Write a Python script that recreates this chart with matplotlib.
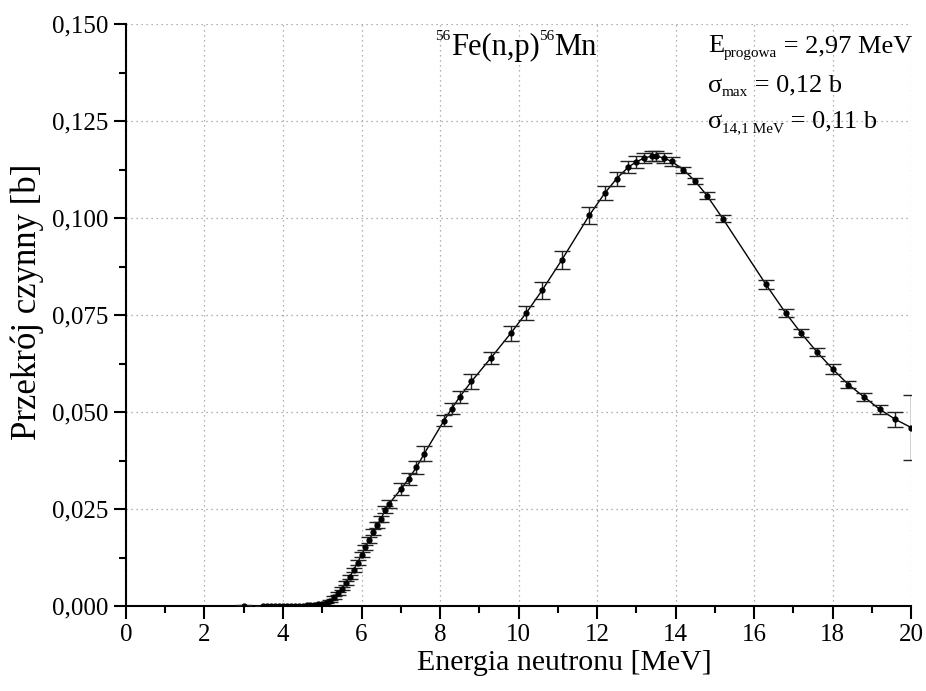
import numpy as np
import matplotlib.pyplot as plt
from matplotlib.ticker import MultipleLocator, FuncFormatter

plt.rcParams['font.family'] = ['Liberation Serif', 'DejaVu Serif']

# energia [MeV], przekroj czynny [b], niepewnosc [b]
energy = [3.0, 3.5, 3.6, 3.7, 3.8, 3.9, 4.0, 4.1, 4.2, 4.3, 4.4, 4.5, 4.6, 4.7,
          4.8, 4.9, 5.0, 5.1, 5.2, 5.3, 5.4, 5.5, 5.6, 5.7, 5.8, 5.9, 6.0, 6.1,
          6.2, 6.3, 6.4, 6.5, 6.6, 6.7, 7.0, 7.2, 7.4, 7.6, 8.1, 8.3, 8.5, 8.8,
          9.3, 9.8, 10.2, 10.6, 11.1, 11.8, 12.2, 12.5, 12.8, 13.0, 13.2, 13.4,
          13.5, 13.7, 13.9, 14.2, 14.5, 14.8, 15.2, 16.3, 16.8, 17.2, 17.6, 18.0,
          18.4, 18.8, 19.2, 19.6, 20.0]
sigma = [0.0, 0.0, 0.0, 0.0, 0.0, 0.0, 0.0, 0.0, 0.00002, 0.00004, 0.00006,
         0.0001, 0.00015, 0.0002, 0.0003, 0.0004, 0.0006, 0.0009, 0.0013,
         0.0022, 0.0033, 0.0044, 0.0059, 0.0075, 0.0093, 0.0112, 0.0132, 0.0151,
         0.0170, 0.0191, 0.0209, 0.0225, 0.0248, 0.0263, 0.0301, 0.0328, 0.0358,
         0.0393, 0.0478, 0.0509, 0.0539, 0.0579, 0.0640, 0.0703, 0.0756, 0.0814,
         0.0892, 0.1007, 0.1065, 0.1102, 0.1132, 0.1145, 0.1155, 0.1160, 0.1160,
         0.1155, 0.1146, 0.1125, 0.1095, 0.1058, 0.0999, 0.0829, 0.0756, 0.0703,
         0.0655, 0.0611, 0.0571, 0.0539, 0.0507, 0.0481, 0.0460]
err = [0.0002, 0.0001, 0.0001, 0.0001, 0.0001, 0.0001, 0.0001, 0.0001, 0.0001,
       0.0001, 0.0001, 0.0001, 0.0001, 0.0001, 0.0001, 0.0002, 0.0002, 0.0002,
       0.0003, 0.0003, 0.0004, 0.0004, 0.0005, 0.0005, 0.0006, 0.0006, 0.0006,
       0.0007, 0.0007, 0.0007, 0.0008, 0.0008, 0.0009, 0.0010, 0.0015, 0.0015,
       0.0017, 0.0020, 0.0015, 0.0015, 0.0015, 0.0020, 0.0015, 0.0020, 0.0018,
       0.0022, 0.0022, 0.0022, 0.0018, 0.0018, 0.0016, 0.0015, 0.0012, 0.0012,
       0.0012, 0.0012, 0.0012, 0.0008, 0.0008, 0.0009, 0.0008, 0.0012, 0.0010,
       0.0010, 0.0010, 0.0012, 0.0010, 0.0010, 0.0012, 0.0019, 0.0084]


def chain(ax, x, y, size, parts):
    """Tekst z indeksami: parts = [(tekst, rozmiar, przesuniecie_pionowe_pt)]"""
    anchor = ax.text(x, y, 'E', transform=ax.transAxes, fontsize=size,
                     ha='left', va='baseline', alpha=0)
    prev = None
    for txt, fs, dy in parts:
        xref = anchor if prev is None else prev
        xfrac = 0 if prev is None else 1
        prev = ax.annotate(txt, xy=(xfrac, 0), xycoords=(xref, anchor),
                           xytext=(0, dy), textcoords='offset points',
                           fontsize=fs, ha='left', va='bottom')


fig = plt.figure(figsize=(9.26, 6.91), dpi=100)
ax = fig.add_axes([0.136, 0.123, 0.848, 0.842])

ax.plot(energy, sigma, '-', color='black', linewidth=1.0, zorder=3)
ax.errorbar(energy, sigma, yerr=err, fmt='o', color='black', markersize=3.5,
            ecolor='#222222', elinewidth=1.0, capsize=5.5, capthick=1.0, zorder=4)

ax.set_xlim(0, 20)
ax.set_ylim(0, 0.150)
ax.xaxis.set_major_locator(MultipleLocator(2))
ax.xaxis.set_minor_locator(MultipleLocator(1))
ax.yaxis.set_major_locator(MultipleLocator(0.025))
ax.yaxis.set_minor_locator(MultipleLocator(0.0125))
ax.yaxis.set_major_formatter(FuncFormatter(lambda v, p: f'{v:.3f}'.replace('.', ',')))

for s in ['top', 'right']:
    ax.spines[s].set_visible(False)
for s in ['left', 'bottom']:
    ax.spines[s].set_linewidth(1.5)
ax.tick_params(which='major', direction='out', length=9, width=1.5, labelsize=18, pad=4)
ax.tick_params(which='minor', direction='out', length=5, width=1.5)

ax.grid(True, which='major', color='#999999', linestyle=(0, (1, 3)), linewidth=0.9)
ax.set_axisbelow(True)

ax.set_xlabel('Energia neutronu [MeV]', fontsize=21.5)
ax.set_ylabel('Przekrój czynny [b]', fontsize=25)
ax.xaxis.set_label_coords(0.558, -0.075)
ax.yaxis.set_label_coords(-0.104, 0.522)

chain(ax, 0.394, 0.947, 22, [('56', 11, 14), ('Fe(n,p)', 22, 0), ('56', 11, 14), ('Mn', 22, 0)])
chain(ax, 0.741, 0.952, 19, [('E', 19, 0), ('progowa', 11, -2), (' = 2,97 MeV', 19, 0)])
chain(ax, 0.741, 0.884, 19, [('σ', 19, 0), ('max', 11, -2), (' = 0,12 b', 19, 0)])
chain(ax, 0.741, 0.822, 19, [('σ', 19, 0), ('14,1 MeV', 11, -2), (' = 0,11 b', 19, 0)])

fig.savefig('out.png', dpi=100)
